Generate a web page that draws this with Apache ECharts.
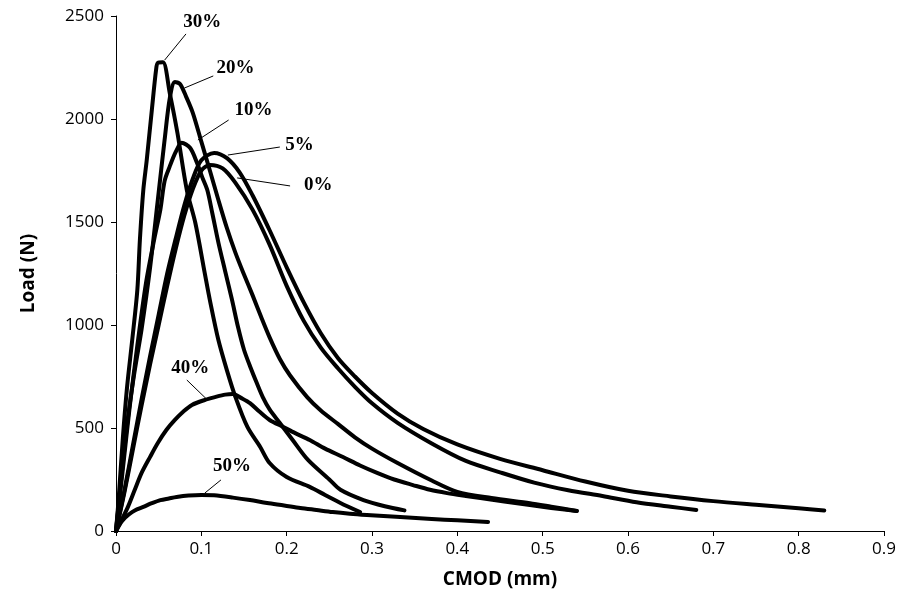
<!DOCTYPE html>
<html>
<head>
<meta charset="utf-8">
<script src="https://cdn.jsdelivr.net/npm/echarts@6/dist/echarts.min.js"></script>
<style>
  html, body { margin: 0; padding: 0; background: #fff; }
  #chart { width: 917px; height: 601px; }
</style>
</head>
<body>
<div id="chart"></div>
<script>
// CMOD (mm), Load (N) pairs
var s30 = [[0,0],[0.003,150],[0.008,450],[0.013,700],[0.019,927],[0.025,1170],[0.028,1413],[0.032,1655],[0.036,1800],[0.042,2044],[0.047,2240],[0.049,2272],[0.055,2275],
  [0.063,2126],[0.072,1932],[0.083,1655],[0.093,1495],[0.104,1252],[0.11,1121],[0.12,927],[0.13,780],[0.14,650],[0.154,505],[0.169,408],[0.18,330],[0.2,262],[0.227,214],[0.245,175],[0.263,136],[0.286,92]];
var s20 = [[0,0],[0.006,250],[0.014,550],[0.022,780],[0.03,980],[0.04,1280],[0.049,1607],[0.057,1900],[0.063,2100],[0.069,2180],[0.075,2170],[0.082,2110],[0.09,2030],[0.1,1890],[0.11,1750],[0.12,1607],
  [0.13,1470],[0.14,1350],[0.15,1245],[0.16,1145],[0.17,1040],[0.18,940],[0.192,835],[0.204,755],[0.224,650],[0.24,585],[0.26,520],[0.28,455],[0.3,400],[0.33,330],[0.37,245],[0.4,190],[0.44,160],[0.485,135],[0.51,118],[0.54,97]];
var s10 = [[0,0],[0.008,300],[0.016,600],[0.025,900],[0.035,1200],[0.045,1420],[0.052,1560],[0.057,1700],[0.063,1770],[0.07,1840],[0.077,1885],[0.087,1859],[0.095,1786],[0.101,1718],[0.107,1655],[0.113,1540],
  [0.12,1400],[0.128,1260],[0.136,1121],[0.143,990],[0.15,880],[0.158,790],[0.165,718],[0.172,650],[0.18,590],[0.192,524],[0.207,442],[0.225,345],[0.25,250],[0.263,200],[0.29,150],[0.315,120],[0.338,100]];
var s5 = [[0,0],[0.01,200],[0.02,420],[0.03,640],[0.04,850],[0.05,1050],[0.06,1250],[0.07,1420],[0.08,1580],[0.09,1710],[0.1,1800],[0.115,1835],[0.13,1810],[0.145,1740],[0.16,1630],[0.18,1460],[0.2,1280],
  [0.22,1110],[0.24,960],[0.26,840],[0.28,750],[0.3,670],[0.33,570],[0.36,495],[0.4,420],[0.45,350],[0.5,295],[0.55,240],[0.6,195],[0.65,168],[0.7,145],[0.75,127],[0.8,110],[0.83,100]];
var s0 = [[0,0],[0.01,190],[0.02,400],[0.03,610],[0.04,810],[0.05,1000],[0.06,1190],[0.07,1370],[0.08,1530],[0.09,1660],[0.1,1750],[0.11,1777],[0.125,1760],[0.14,1690],[0.16,1560],[0.18,1390],[0.2,1190],
  [0.22,1020],[0.24,890],[0.26,790],[0.28,700],[0.3,620],[0.33,525],[0.37,425],[0.41,340],[0.45,285],[0.49,235],[0.53,198],[0.57,170],[0.61,140],[0.65,118],[0.68,102]];
var s40 = [[0,0],[0.005,40],[0.014,117],[0.022,200],[0.03,282],[0.04,360],[0.049,427],[0.059,490],[0.069,539],[0.079,580],[0.089,612],[0.104,636],[0.116,650],[0.128,662],[0.137,665],[0.147,645],[0.157,621],
  [0.168,580],[0.18,539],[0.196,505],[0.21,475],[0.227,442],[0.245,400],[0.266,359],[0.286,318],[0.306,282],[0.326,250],[0.348,223],[0.368,200],[0.388,184],[0.41,170],[0.427,160],[0.455,143],[0.485,126],[0.51,112],[0.54,97]];
var s50 = [[0,0],[0.004,30],[0.008,53],[0.015,80],[0.022,100],[0.032,117],[0.042,135],[0.052,150],[0.062,158],[0.071,165],[0.085,172],[0.1,175],[0.115,173],[0.137,162],[0.157,150],[0.177,136],[0.197,124],
  [0.216,112],[0.235,102],[0.254,92],[0.274,84],[0.294,78],[0.333,68],[0.37,58],[0.4,52],[0.436,44]];

var curveNames = ["30%", "20%", "10%", "5%", "0%", "40%", "50%"];
var curves = [s30, s20, s10, s5, s0, s40, s50];

// label text position and leader line ends, in data units
var labelPos = [[0.101,2471],[0.14,2248],[0.161,2044],[0.215,1874],[0.237,1680],[0.087,791],[0.136,316]];
var leaders = [
  [[0.057,2286],[0.082,2413]],
  [[0.08,2150],[0.114,2209]],
  [[0.096,1898],[0.132,1995]],
  [[0.131,1825],[0.192,1864]],
  [[0.142,1714],[0.204,1675]],
  [[0.083,733],[0.106,641]],
  [[0.123,248],[0.104,184]]
];

var xTicks = { min: 0, max: 0.9, step: 0.1 };
var yTicks = { min: 0, max: 2500, step: 500 };

var chart = echarts.init(document.getElementById("chart"));

var series = [];
curves.forEach(function (d, i) {
  series.push({
    name: curveNames[i],
    type: "line",
    data: d,
    symbol: "none",
    smooth: 0.3,
    lineStyle: { color: "#000", width: 4, cap: "round", join: "round" },
    z: 3
  });
});
leaders.forEach(function (d) {
  series.push({
    type: "line",
    data: d,
    symbol: "none",
    lineStyle: { color: "#000", width: 1 },
    z: 2
  });
});
series.push({
  type: "scatter",
  symbolSize: 0,
  itemStyle: { opacity: 1, color: "#000" },
  data: labelPos.map(function (p, i) { return { name: curveNames[i], value: p }; }),
  label: {
    show: true,
    position: "inside",
    formatter: "{b}",
    color: "#000",
    opacity: 1,
    textBorderWidth: 0,
    fontFamily: "Liberation Serif",
    fontWeight: "bold",
    fontSize: 19
  },
  z: 4
});

chart.setOption({
  animation: false,
  backgroundColor: "#fff",
  grid: { left: 116, right: 33, top: 16, bottom: 70 },
  xAxis: {
    type: "value",
    min: xTicks.min,
    max: xTicks.max,
    interval: xTicks.step,
    name: "CMOD (mm)",
    nameLocation: "middle",
    nameGap: 39,
    nameTextStyle: { fontFamily: "Open Sans", fontWeight: "bold", fontSize: 19, color: "#000" },
    axisLine: { lineStyle: { color: "#000", width: 1 } },
    axisTick: { show: true, length: 5, lineStyle: { color: "#000" } },
    axisLabel: {
      color: "#000",
      fontFamily: "Open Sans",
      fontSize: 17,
      margin: 10,
      formatter: function (v) { return String(+v.toFixed(1)); }
    },
    splitLine: { show: false }
  },
  yAxis: {
    type: "value",
    min: yTicks.min,
    max: yTicks.max,
    interval: yTicks.step,
    name: "Load (N)",
    nameLocation: "middle",
    nameGap: 78,
    nameTextStyle: { fontFamily: "Open Sans", fontWeight: "bold", fontSize: 19, color: "#000" },
    axisLine: { show: true, lineStyle: { color: "#000", width: 1 } },
    axisTick: { show: true, length: 5, lineStyle: { color: "#000" } },
    axisLabel: {
      color: "#000",
      fontFamily: "Open Sans",
      fontSize: 17,
      margin: 12,
      formatter: function (v) { return String(v); }
    },
    splitLine: { show: false }
  },
  series: series
});
</script>
</body>
</html>
